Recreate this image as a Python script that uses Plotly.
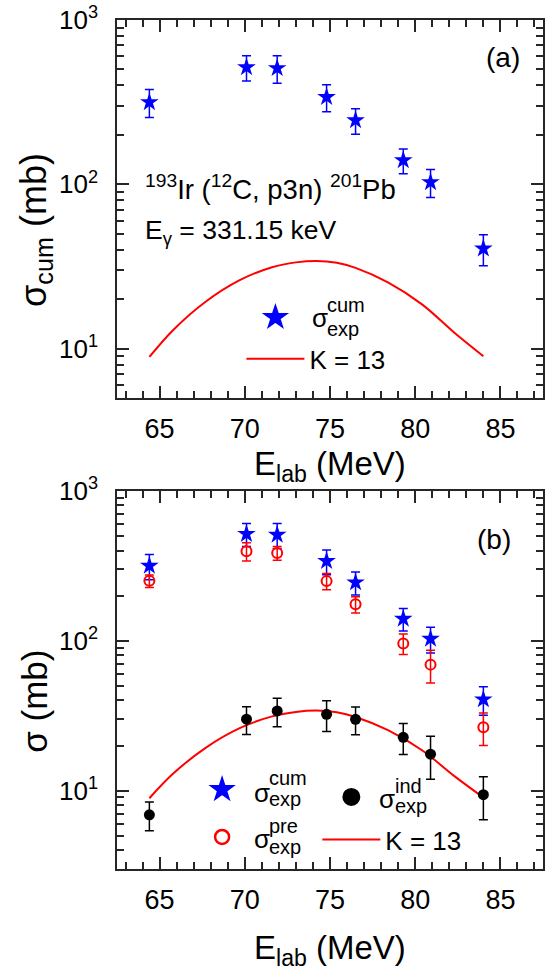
import plotly.graph_objects as go

# ---------------- data ----------------
e_lab = [64.4, 70.1, 71.9, 74.8, 76.5, 79.3, 80.9, 84.0]
sigma_cum = [316, 516, 509, 340, 245, 140, 103, 40.6]
sigma_cum_err = [61, 90, 97, 64, 43, 24, 20, 8.7]
sigma_pre = [251, 395, 385, 250, 175, 96, 69.3, 26.5]
sigma_pre_err = [24, 55, 40, 31, 22, 15, 17, 6.5]
sigma_ind = [6.9, 30.0, 34.0, 32.3, 29.9, 22.7, 17.5, 9.4]
sigma_ind_err = [1.5, 6.3, 7.3, 7.5, 6.3, 5.3, 5.6, 3.0]
k13_e = [64.4, 65.8, 67.7, 69.7, 71.6, 73.0, 74.2, 75.4, 76.5, 78.4, 80.4, 82.3, 84.0]
k13_sigma = [8.9, 13.0, 19.3, 26.1, 31.3, 33.5, 34.2, 33.3, 31.0, 25.3, 18.6, 12.5, 9.0]
y_tickvals = [10, 100, 1000]
y_ticktext = ["10<sup>1</sup>", "10<sup>2</sup>", "10<sup>3</sup>"]
x_tickvals = [65, 70, 75, 80, 85]

# ---------------- geometry / styles ----------------
W, H = 547, 975
L, R, T, B = 117, 545, 18, 869
FONT = "Liberation Sans, Arial, sans-serif"
FRAME = "#262626"
BLUE, RED, BLACK = "#0000FF", "#FF0000", "#000000"


def fx(px):
    return (px - L) / (R - L)


def fy(py):
    return (B - py) / (B - T)


fig = go.Figure()

# top panel
fig.add_trace(go.Scatter(
    x=e_lab, y=sigma_cum, mode="markers", xaxis="x", yaxis="y", showlegend=False,
    marker=dict(symbol="star", size=14, color=BLUE, line=dict(width=0)),
    error_y=dict(type="data", array=sigma_cum_err, color=BLUE, thickness=1.5, width=4.5)))
fig.add_trace(go.Scatter(
    x=[None], y=[None], mode="markers", xaxis="x", yaxis="y", name=" ",
    legend="legend3", legendgroup="a1",
    marker=dict(symbol="star", size=20, color=BLUE, line=dict(width=2, color=BLUE))))
fig.add_trace(go.Scatter(
    x=k13_e, y=k13_sigma, mode="lines", xaxis="x", yaxis="y", name="K = 13",
    legend="legend3", legendgroup="a2", line=dict(color=RED, width=2, shape="spline")))

# bottom panel
fig.add_trace(go.Scatter(
    x=k13_e, y=k13_sigma, mode="lines", xaxis="x2", yaxis="y2", showlegend=False,
    line=dict(color=RED, width=2, shape="spline")))
fig.add_trace(go.Scatter(
    x=e_lab, y=sigma_cum, mode="markers", xaxis="x2", yaxis="y2", showlegend=False,
    marker=dict(symbol="star", size=14, color=BLUE, line=dict(width=0)),
    error_y=dict(type="data", array=sigma_cum_err, color=BLUE, thickness=1.5, width=4.5)))
fig.add_trace(go.Scatter(
    x=e_lab, y=sigma_pre, mode="markers", xaxis="x2", yaxis="y2", showlegend=False,
    marker=dict(symbol="circle-open", size=10, color=RED, line=dict(width=2, color=RED)),
    error_y=dict(type="data", array=sigma_pre_err, color=RED, thickness=1.5, width=4.5)))
fig.add_trace(go.Scatter(
    x=e_lab, y=sigma_ind, mode="markers", xaxis="x2", yaxis="y2", showlegend=False,
    marker=dict(symbol="circle", size=11, color=BLACK),
    error_y=dict(type="data", array=sigma_ind_err, color=BLACK, thickness=1.5, width=4.5)))

# legend keys (bottom)
fig.add_trace(go.Scatter(
    x=[None], y=[None], mode="markers", xaxis="x2", yaxis="y2", name=" ",
    legend="legend", legendgroup="b1",
    marker=dict(symbol="star", size=20, color=BLUE, line=dict(width=2, color=BLUE))))
fig.add_trace(go.Scatter(
    x=[None], y=[None], mode="markers", xaxis="x2", yaxis="y2", name=" ",
    legend="legend", legendgroup="b2",
    marker=dict(symbol="circle-open", size=14, color=RED, line=dict(width=2.5, color=RED))))
fig.add_trace(go.Scatter(
    x=[None], y=[None], mode="markers", xaxis="x2", yaxis="y2", name=" ",
    legend="legend2", legendgroup="c1",
    marker=dict(symbol="circle", size=18, color=BLACK, line=dict(width=2, color=BLACK))))
fig.add_trace(go.Scatter(
    x=[None], y=[None], mode="lines", xaxis="x2", yaxis="y2", name="K = 13",
    legend="legend2", legendgroup="c2", line=dict(color=RED, width=2)))

minor_y = [m * 10 ** k for k in range(0, 3) for m in range(2, 10)]

xcommon = dict(
    range=[62.5, 87.5], tickvals=x_tickvals, showline=True, linecolor=FRAME, linewidth=1.5,
    mirror="ticks", ticks="inside", ticklen=12, tickwidth=1.5, tickcolor=FRAME,
    showgrid=False, zeroline=False, ticklabelstandoff=6,
    tickfont=dict(size=27, family=FONT, color="black"),
    minor=dict(ticks="inside", ticklen=7, tickwidth=1.5, tickcolor=FRAME, dtick=1, tick0=0,
               showgrid=False))
ycommon = dict(
    type="log", tickvals=y_tickvals, ticktext=y_ticktext, showline=True, linecolor=FRAME,
    linewidth=1.5, mirror="ticks", ticks="inside", ticklen=12, tickwidth=1.5,
    tickcolor=FRAME, showgrid=False, zeroline=False, ticklabelstandoff=12,
    tickfont=dict(size=26, family=FONT, color="black"),
    minor=dict(ticks="inside", ticklen=7, tickwidth=1.5, tickcolor=FRAME,
               tickvals=minor_y, showgrid=False))

top_dom = [fy(397), 1.0]
bot_dom = [0.0, fy(490)]

legcommon = dict(bgcolor="rgba(0,0,0,0)", borderwidth=0, font=dict(size=26, family=FONT, color="black"),
                 xanchor="left", yanchor="top", xref="paper", yref="paper", itemsizing="trace")


def ann(text, xpx, ypx, size, xanchor="left", yanchor="middle", angle=0):
    return dict(text=text, x=fx(xpx), y=fy(ypx), xref="paper", yref="paper", showarrow=False,
                xanchor=xanchor, yanchor=yanchor, textangle=angle, borderpad=0,
                font=dict(size=size, family=FONT, color="black"))


annotations = [
    ann("(a)", 505, 55.8, 28, "center"),
    ann("(b)", 496, 539.2, 28, "center"),
    ann("<sup>193</sup>Ir (<sup>12</sup>C, p3n) <sup>201</sup>Pb", 144, 204.5, 27.5, "left", "bottom"),
    ann("E<sub>γ</sub> = 331.15 keV", 144, 212, 26.5, "left", "top"),
    ann("E<sub>lab</sub> (MeV)", 331, 442.5, 33, "center", "top"),
    ann("E<sub>lab</sub> (MeV)", 331, 928.5, 33, "center", "top"),
    ann("σ<sub>cum</sub> (mb)", 35, 228, 36, "center", "middle", -90),
    ann("σ (mb)", 34, 701, 35, "center", "middle", -90),
    # legend labels (top)
    ann("σ", 311.7, 316.8, 26),
    ann("cum", 326.7, 304.1, 20),
    ann("exp", 326.7, 327.3, 20),
    # legend labels (bottom)
    ann("σ", 253.3, 792.6, 26),
    ann("cum", 268.3, 777.3, 20),
    ann("exp", 268.3, 799.2, 20),
    ann("σ", 253.3, 839.4, 26),
    ann("pre", 268.3, 825.8, 20),
    ann("exp", 268.3, 847.3, 20),
    ann("σ", 379.3, 799.2, 26),
    ann("ind", 395, 786.3, 20),
    ann("exp", 395, 805.8, 20),
]

fig.update_layout(
    width=W, height=H, margin=dict(l=L, r=W - R, t=T, b=H - B),
    paper_bgcolor="white", plot_bgcolor="white",
    font=dict(family=FONT, color="black"),
    xaxis=dict(domain=[0, 1], anchor="y", **xcommon),
    yaxis=dict(domain=top_dom, anchor="x", range=[0.69897, 3], **ycommon),
    xaxis2=dict(domain=[0, 1], anchor="y2", **xcommon),
    yaxis2=dict(domain=bot_dom, anchor="x2", range=[0.47712, 3], **ycommon),
    legend3=dict(x=fx(242), y=fy(292.6), itemwidth=58, tracegroupgap=4.5, **legcommon),
    legend=dict(x=fx(202.5), y=fy(765.9), itemwidth=30, tracegroupgap=10.6, **legcommon),
    legend2=dict(x=fx(318.3), y=fy(773.3), itemwidth=58, tracegroupgap=5.8, **legcommon),
    annotations=annotations,
)

fig.write_html("out.html")
